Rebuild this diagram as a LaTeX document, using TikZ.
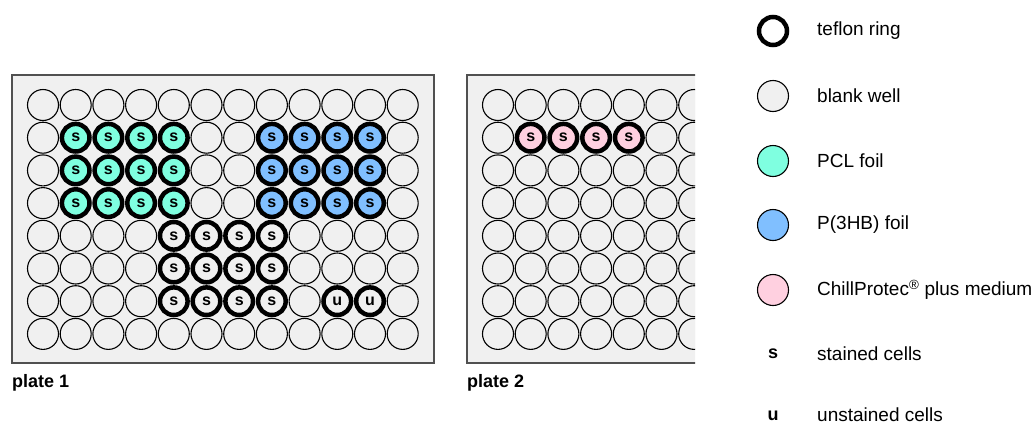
\documentclass[tikz,border=0pt]{standalone}
\usepackage{fontspec}
\setmainfont{Liberation Sans}
\definecolor{platefill}{HTML}{F0F0F0}
\definecolor{platebd}{HTML}{505050}
\definecolor{pclc}{HTML}{7FFFE0}
\definecolor{phbc}{HTML}{80BFFF}
\definecolor{chillc}{HTML}{FFD0E0}
\begin{document}
\begin{tikzpicture}[x=1pt,y=-1pt,
  plate/.style={draw=platebd, fill=platefill, line width=1.5pt},
  blankw/.style={circle, draw=black, line width=1.1pt, fill=platefill, minimum size=31pt, inner sep=0pt, font=\bfseries\fontsize{16}{16}\selectfont},
  ringw/.style={blankw, line width=4.5pt, minimum size=27.6pt},
  pclw/.style={ringw, fill=pclc},
  phbw/.style={ringw, fill=phbc},
  chillw/.style={ringw, fill=chillc},
  legtext/.style={anchor=west, inner sep=0pt, font=\fontsize{19}{22}\selectfont},
  legletter/.style={inner sep=0pt, font=\bfseries\fontsize{18}{18}\selectfont},
  platelabel/.style={anchor=base west, inner sep=0pt, font=\bfseries\fontsize{18}{22}\selectfont},
  ]
\useasboundingbox (0,0) rectangle (1036,426);
% plate 1
\draw[plate] (12,75) rectangle (434,363);
\foreach \r in {1,...,8}{
  \foreach \c in {1,...,12}{
    \def\wst{blankw}\def\wtx{}%
    \ifnum\r>1 \ifnum\r<5
      \ifnum\c>1 \ifnum\c<6 \def\wst{pclw}\def\wtx{s}\fi\fi
      \ifnum\c>7 \ifnum\c<12 \def\wst{phbw}\def\wtx{s}\fi\fi
    \fi\fi
    \ifnum\r>4 \ifnum\r<8
      \ifnum\c>4 \ifnum\c<9 \def\wst{ringw}\def\wtx{s}\fi\fi
    \fi\fi
    \ifnum\r=7 \ifnum\c>9 \ifnum\c<12 \def\wst{ringw}\def\wtx{u}\fi\fi\fi
    \node[\wst] (pa-\r-\c) at ({43+(\c-1)*32.7},{105+(\r-1)*32.7}) {\wtx};
  }
}
\node[platelabel] (pl1) at (12,387) {plate 1};
% plate 2 (cut off at the right)
\begin{scope}
  \clip (455,60) rectangle (695,375);
  \draw[plate] (467,75) rectangle (740,363);
  \foreach \r in {1,...,8}{
    \foreach \c in {1,...,7}{
      \def\wst{blankw}\def\wtx{}%
      \ifnum\r=2 \ifnum\c>1 \ifnum\c<6 \def\wst{chillw}\def\wtx{s}\fi\fi\fi
      \node[\wst] (pb-\r-\c) at ({498+(\c-1)*32.7},{105+(\r-1)*32.7}) {\wtx};
    }
  }
\end{scope}
\node[platelabel] (pl2) at (467,387) {plate 2};
% legend
\node[ringw, fill=white, minimum size=28pt] (lg1) at (773,31) {};
\node[blankw] (lg2) at (773,96) {};
\node[blankw, fill=pclc] (lg3) at (773,161) {};
\node[blankw, fill=phbc] (lg4) at (773,225) {};
\node[blankw, fill=chillc] (lg5) at (773,290) {};
\node[legletter] (lg6) at (773,354) {s};
\node[legletter] (lg7) at (773,416) {u};
\node[legtext] (lt1) at (817,31) {teflon ring};
\node[legtext] (lt2) at (817,96) {blank well};
\node[legtext] (lt3) at (817,161) {PCL foil};
\node[legtext] (lt4) at (817,225) {P(3HB) foil};
\node[legtext] (lt5) at (817,290) {ChillProtec\textsuperscript{®} plus medium};
\node[legtext] (lt6) at (817,354) {stained cells};
\node[legtext] (lt7) at (817,415) {unstained cells};
\end{tikzpicture}
\end{document}
